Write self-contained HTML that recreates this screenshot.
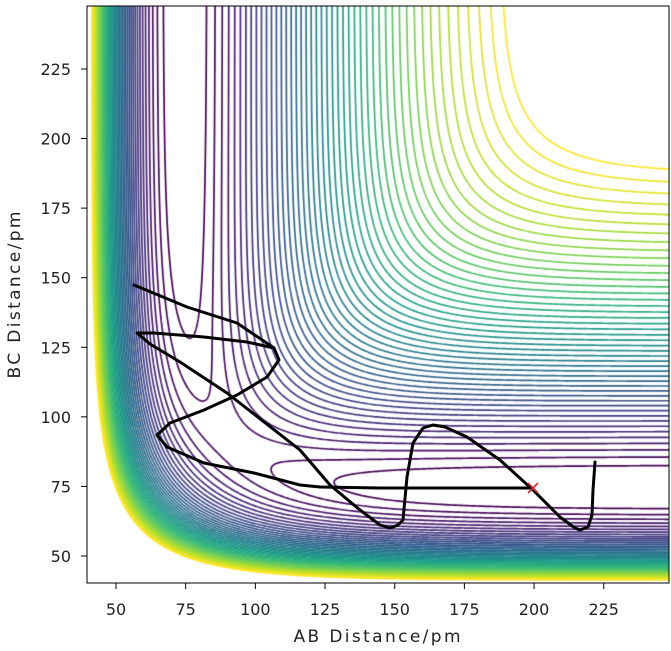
<!DOCTYPE html>
<html><head><meta charset="utf-8"><style>
html,body{margin:0;padding:0;background:#fff;}
body{width:671px;height:651px;position:relative;overflow:hidden;font-family:"Liberation Sans","DejaVu Sans",sans-serif;}
#cv{position:absolute;left:87px;top:6px;}
svg{position:absolute;left:0;top:0;}
text{font-family:"DejaVu Sans","Liberation Sans",sans-serif;font-size:16px;fill:#222;}
</style></head><body>
<canvas id="cv" width="582" height="577"></canvas>
<svg width="671" height="651" id="sv">
<g id="ticks"></g>
<polyline fill="none" stroke="#000" stroke-width="3" stroke-linejoin="round" stroke-linecap="round" points="533,488 450,488 380,488 320,487 300,485 254,473 204,463 167,447 157,435 170,423 204,410 237,395 267,377 279,360 274,348 237,323 187,307 134,285"/>
<polyline fill="none" stroke="#000" stroke-width="3" stroke-linejoin="round" stroke-linecap="round" points="274,348 247,342 204,337 154,333 137,333 150,344 180,362 227,393 300,450 330,485 360,510 380,525 390,528 398,525 403,520 407,477 413,443 423,428 433,425 445,427 467,437 500,460 533,490 560,517 575,528 580,530 588,527 592,515 593,490 595,462"/>
<g stroke="#e8262a" stroke-width="1.6"><line x1="528" y1="483" x2="538" y2="493"/><line x1="538" y1="483" x2="528" y2="493"/></g>
<rect x="87" y="6" width="582" height="577" fill="none" stroke="#000" stroke-width="1"/>
<text x="377" y="642" text-anchor="middle" textLength="167" style="font-size:17px">AB Distance/pm</text>
<text transform="translate(20,295) rotate(-90)" text-anchor="middle" textLength="167" style="font-size:17px">BC Distance/pm</text>
</svg>
<script>
var XMIN=39.6,XMAX=248.4,YMIN=40.3,YMAX=247.6,W=582,H=577;
var sv=document.getElementById('ticks'),s='';
for(var i=0;i<8;i++){var v=50+25*i;var px=116+(v-50)*2.787;s+='<line x1="'+px+'" y1="583" x2="'+px+'" y2="589" stroke="#000"/><text x="'+px+'" y="615" text-anchor="middle">'+v+'</text>';
var py=556-(v-50)*2.783;s+='<line x1="81" y1="'+py+'" x2="87" y2="'+py+'" stroke="#000"/><text x="71" y="'+(py+6)+'" text-anchor="end">'+v+'</text>';}
sv.innerHTML=s;
var De=458.2,re=74.14,b=0.01942,k=0.18;
function parts(r){var x=Math.exp(-b*(r-re));var e1=De*(x*x-2*x),e3=De/2*(x*x+2*x);return [(e1*(1+k)+e3*(1-k))/2,(e1*(1+k)-e3*(1-k))/2];}
function V(ab,bc){var a=parts(ab),c=parts(bc),d=parts(ab+bc);var ja=a[1],jb=c[1],jc=d[1];
return (a[0]+c[0]+d[0]-Math.sqrt(((ja-jb)*(ja-jb)+(jb-jc)*(jb-jc)+(jc-ja)*(jc-ja))/2))/(1+k);}
var st=0.7,nx=Math.ceil((XMAX-XMIN)/st)+1,ny=Math.ceil((YMAX-YMIN)/st)+1,G=[];
for(var j=0;j<ny;j++){G[j]=[];for(var i=0;i<nx;i++){G[j][i]=V(XMIN+i*st,YMIN+j*st);}}
var vmax=V(248.4,189);
var v1=Math.max(V(248.4,82),V(248.4,67));
var N=46,stp=(vmax-v1)/(N-1);
var vir=[[68,1,84],[72,40,120],[62,74,137],[49,104,142],[38,130,142],[31,158,137],[53,183,121],[110,206,88],[181,222,43],[253,231,37]];
function col(t){t=Math.max(0,Math.min(1,t))*9;var kk=Math.min(8,Math.floor(t)),f=t-kk,a=vir[kk],c=vir[kk+1];return 'rgb('+Math.round(a[0]+(c[0]-a[0])*f)+','+Math.round(a[1]+(c[1]-a[1])*f)+','+Math.round(a[2]+(c[2]-a[2])*f)+')';}
var ctx=document.getElementById('cv').getContext('2d');ctx.lineWidth=1.7;
function X(i){return (i*st)/(XMAX-XMIN)*W;}function Y(j){return H-(j*st)/(YMAX-YMIN)*H;}
for(var L=0;L<N;L++){var lv=v1+stp*L;ctx.strokeStyle=col(L/(N-1));ctx.beginPath();
for(var j=0;j<ny-1;j++)for(var i=0;i<nx-1;i++){
var a=G[j][i],bb=G[j][i+1],c=G[j+1][i+1],d=G[j+1][i];var pts=[];
if((a<lv)!=(bb<lv)){var t=(lv-a)/(bb-a);pts.push([X(i+t),Y(j)]);}
if((bb<lv)!=(c<lv)){var t=(lv-bb)/(c-bb);pts.push([X(i+1),Y(j+t)]);}
if((c<lv)!=(d<lv)){var t=(lv-d)/(c-d);pts.push([X(i+t),Y(j+1)]);}
if((d<lv)!=(a<lv)){var t=(lv-a)/(d-a);pts.push([X(i),Y(j+t)]);}
if(pts.length>=2){ctx.moveTo(pts[0][0],pts[0][1]);ctx.lineTo(pts[1][0],pts[1][1]);}
if(pts.length==4){ctx.moveTo(pts[2][0],pts[2][1]);ctx.lineTo(pts[3][0],pts[3][1]);}
}ctx.stroke();}
</script>
</body></html>
